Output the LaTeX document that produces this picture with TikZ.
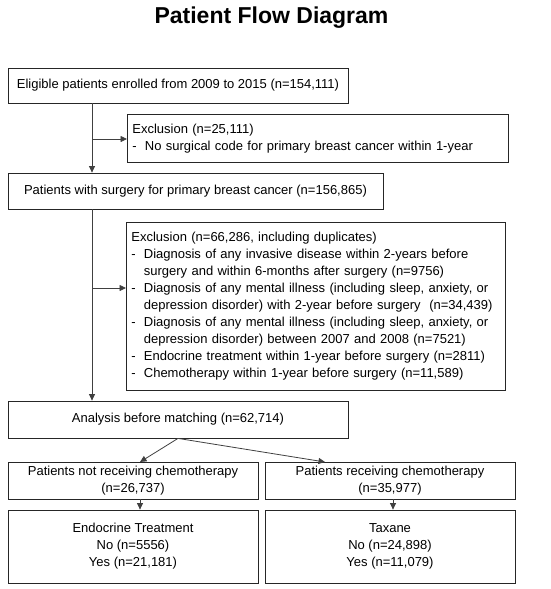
\documentclass[tikz,border=0pt]{standalone}
\usepackage{fontspec}
\setmainfont{Liberation Sans}
\usetikzlibrary{arrows.meta,positioning,calc}
\tikzset{
  blk/.style={draw=black!85,rectangle,line width=0.8pt,inner sep=0pt,align=center,font=\fontsize{13}{17}\selectfont},
  exblk/.style={blk,align=left,anchor=north west,inner xsep=5pt},
  arr/.style={-{Triangle[length=6.5pt,width=6pt]},black!75,line width=0.8pt},
  lbl/.style={font=\fontsize{23}{27}\selectfont\bfseries}
}
\newcommand{\exitem}[1]{\makebox[12.5pt][l]{-}#1}
\newcommand{\excont}[1]{\hspace*{12.5pt}#1}

\begin{document}
\begin{tikzpicture}[x=1pt,y=-1pt]
  \useasboundingbox (0,0) rectangle (550,589);
  % Title
  \node[lbl] (title) at (271.5,18) {Patient Flow Diagram};

  % Main column
  \node[blk, minimum width=340pt, minimum height=35pt] (enrol) at (178,85.5) {Eligible patients enrolled from 2009 to 2015 (n=154,111)};
  \node[blk, minimum width=375pt, minimum height=36pt] (surg) at (195.5,191) {Patients with surgery for primary breast cancer (n=156,865)};
  \node[blk, minimum width=340pt, minimum height=37pt] (anal) at (178,419.5) {Analysis before matching (n=62,714)};

  % Exclusion boxes
  \node[exblk, text width=371pt, minimum height=48pt] (excl1) at (127,114)
    {Exclusion (n=25,111)\\
     \exitem{No surgical code for primary breast cancer within 1-year}};
  \node[exblk, text width=369pt, minimum height=168pt] (excl2) at (126,222)
    {Exclusion (n=66,286, including duplicates)\\
     \exitem{Diagnosis of any invasive disease within 2-years before}\\
     \excont{surgery and within 6-months after surgery (n=9756)}\\
     \exitem{Diagnosis of any mental illness (including sleep, anxiety, or}\\
     \excont{depression disorder) with 2-year before surgery\ \ (n=34,439)}\\
     \exitem{Diagnosis of any mental illness (including sleep, anxiety, or}\\
     \excont{depression disorder) between 2007 and 2008 (n=7521)}\\
     \exitem{Endocrine treatment within 1-year before surgery (n=2811)}\\
     \exitem{Chemotherapy within 1-year before surgery (n=11,589)}};

  % Chemotherapy groups
  \node[blk, minimum width=250pt, minimum height=37pt] (nochemo) at (133,480.5) {Patients not receiving chemotherapy\\(n=26,737)};
  \node[blk, minimum width=250pt, minimum height=37pt] (chemo) at (390,480.5) {Patients receiving chemotherapy\\(n=35,977)};
  \node[blk, minimum width=250pt, minimum height=73pt] (endo) at (133,546.5) {Endocrine Treatment\\No (n=5556)\\Yes (n=21,181)};
  \node[blk, minimum width=250pt, minimum height=73pt] (taxane) at (390,546.5) {Taxane\\No (n=24,898)\\Yes (n=11,079)};

  % Connections
  \coordinate (tap1) at (92,139);
  \coordinate (tap2) at (92,288);
  \coordinate (forkL) at (140,462);
  \coordinate (forkR) at (325,462);
  \draw[arr] (enrol.south -| tap1) -- (surg.north -| tap1);
  \draw[arr] (tap1) -- (tap1 -| excl1.west);
  \draw[arr] (surg.south -| tap2) -- (anal.north -| tap2);
  \draw[arr] (tap2) -- (tap2 -| excl2.west);
  \draw[arr] (anal.south) -- (forkL);
  \draw[arr] (anal.south) -- (forkR);
  \draw[arr] (nochemo.south -| forkL) -- (endo.north -| forkL);
  \draw[arr] ([xshift=3pt]chemo.south) -- ([xshift=3pt]taxane.north);
\end{tikzpicture}
\end{document}
